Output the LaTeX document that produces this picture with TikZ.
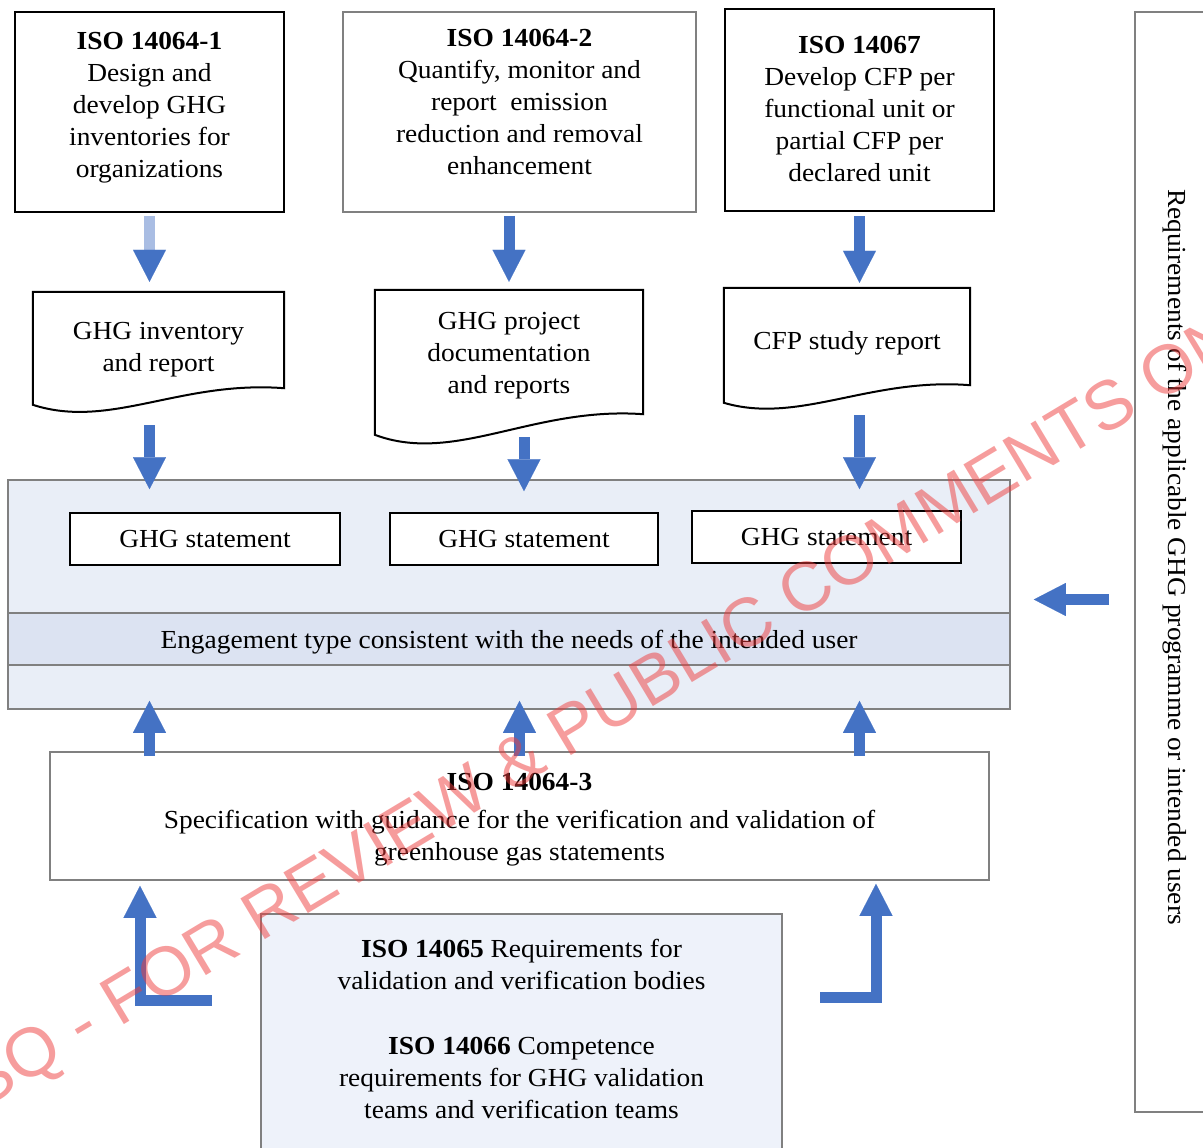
\documentclass[tikz,border=0pt]{standalone}
\usepackage{fontspec}
\setmainfont{Liberation Serif}[FakeStretch=1.055]
\newfontfamily\markfont{Liberation Sans}
\usetikzlibrary{arrows.meta}

\definecolor{arrowblue}{HTML}{4472C4}
\definecolor{paleblue}{HTML}{A9BDE3}
\definecolor{panelblue}{HTML}{E9EEF7}
\definecolor{bandblue}{HTML}{DCE3F2}
\definecolor{bodyblue}{HTML}{EEF2FA}
\definecolor{framegray}{HTML}{808080}
\definecolor{stampred}{HTML}{EE3B3B}

\tikzset{
  blackbox/.style={draw=black, line width=2pt, fill=white, inner sep=0pt},
  graybox/.style={draw=framegray, line width=1.6pt, inner sep=0pt},
  boxtext/.style={align=center, font=\fontsize{26}{32}\selectfont},
  docline/.style={draw=black, line width=2pt},
  blockarrow/.style={draw=arrowblue, line width=11pt,
    -{Triangle[length=32pt,width=33pt,line width=0.1pt]}},
}

\begin{document}
\begin{tikzpicture}[x=1pt,y=-1pt]
    \useasboundingbox (0,0) rectangle (1203,1148);

    % standards on top
    \node[blackbox, minimum width=269, minimum height=200] (isoA) at (149.5,112) {};
    \node[boxtext] at ([yshift=4]isoA.center) {\textbf{ISO 14064-1}\\Design and\\develop GHG\\inventories for\\organizations};
    \node[graybox, fill=white, minimum width=353, minimum height=200] (isoB) at (519.5,112) {};
    \node[boxtext] at ([yshift=10]isoB.center) {\textbf{ISO 14064-2}\\Quantify, monitor and\\report\ \ emission\\reduction and removal\\enhancement};
    \node[blackbox, minimum width=269, minimum height=202] (isoC) at (859.5,110) {};
    \node[boxtext] at ([yshift=1]isoC.center) {\textbf{ISO 14067}\\Develop CFP per\\functional unit or\\partial CFP per\\declared unit};

    % reports
    \node[minimum width=251, minimum height=96] (invdoc) at (158.5,340) {};
    \draw[docline] (invdoc.south east) -- (invdoc.north east) -- (invdoc.north west) -- ++(0,113)
        .. controls +(77,25) and +(-104,-8) .. cycle;
    \node[boxtext] at ([yshift=-10]invdoc.center) {GHG inventory\\and report};
    \node[minimum width=268, minimum height=124] (projdoc) at (509,352) {};
    \draw[docline] (projdoc.south east) -- (projdoc.north east) -- (projdoc.north west) -- ++(0,145)
        .. controls +(80,30) and +(-110,-8) .. cycle;
    \node[boxtext] at ([yshift=-4]projdoc.center) {GHG project\\documentation\\and reports};
    \node[minimum width=246, minimum height=97] (cfpdoc) at (847,336.5) {};
    \draw[docline] (cfpdoc.south east) -- (cfpdoc.north east) -- (cfpdoc.north west) -- ++(0,115)
        .. controls +(75,22) and +(-100,-8) .. cycle;
    \node[boxtext] at ([yshift=-7]cfpdoc.center) {CFP study report};

    % statements and engagement
    \node[graybox, fill=panelblue, minimum width=1002, minimum height=229] (ghgbox) at (509,594.5) {};
    \node[graybox, fill=bandblue, minimum width=1002, minimum height=52] (engage) at (509,639) {};
    \node[boxtext] at ([yshift=-3]engage.center) {Engagement type consistent with the needs of the intended user};
    \node[blackbox, minimum width=270, minimum height=52, boxtext] (stmtA) at (205,539) {GHG statement};
    \node[blackbox, minimum width=268, minimum height=52, boxtext] (stmtB) at (524,539) {GHG statement};
    \node[blackbox, minimum width=269, minimum height=52, boxtext] (stmtC) at (826.5,537) {GHG statement};

    % verification
    \node[graybox, fill=white, minimum width=939, minimum height=128] (verif) at (519.5,816) {};
    \node[boxtext] at ([yshift=-4]verif.center)
        {\textbf{ISO 14064-3}\\[6pt]Specification with guidance for the verification and validation of\\greenhouse gas statements};
    \node[graybox, fill=bodyblue, minimum width=521, minimum height=244] (valbox) at (521.5,1036) {};
    \node[boxtext] at ([yshift=7]valbox.center) {\textbf{ISO 14065} Requirements for\\validation and verification bodies\\[33pt]%
        \textbf{ISO 14066} Competence\\requirements for GHG validation\\teams and verification teams};

    % programme requirements
    \node[graybox, rotate=-90, minimum width=1100, minimum height=80, boxtext] (reqbox) at (1175,562)
        {\hspace*{-10pt}Requirements of the applicable GHG programme or intended users};

    % arrows
    \draw[blockarrow, draw=paleblue, -{Triangle[length=32pt,width=33pt,line width=0.1pt,color=arrowblue]},
        shorten <=3, shorten >=10] (isoA.south) -- (isoA.south |- invdoc.north);
    \draw[blockarrow, shorten <=3, shorten >=8] (projdoc.north |- isoB.south) -- (projdoc.north);
    \draw[blockarrow, shorten <=4, shorten >=5] (isoC.south) -- (isoC.south |- cfpdoc.north);

    \draw[blockarrow, shorten <=37, shorten >=-10] (isoA.south |- invdoc.south) -- (isoA.south |- ghgbox.north);
    \draw[blockarrow, shorten <=23, shorten >=-12] (stmtB.north |- projdoc.south) -- (stmtB.north |- ghgbox.north);
    \draw[blockarrow, shorten <=30, shorten >=-10] (isoC.south |- cfpdoc.south) -- (isoC.south |- ghgbox.north);

    \draw[blockarrow, shorten <=-5, shorten >=-9] (isoA.south |- verif.north) -- (isoA.south |- ghgbox.south);
    \draw[blockarrow, shorten <=-5, shorten >=-9] (verif.north) -- (verif.north |- ghgbox.south);
    \draw[blockarrow, shorten <=-5, shorten >=-9] (isoC.south |- verif.north) -- (isoC.south |- ghgbox.south);

    \draw[blockarrow, shorten <=25, shorten >=23] ([yshift=-5]reqbox.south |- ghgbox.east) -- ([yshift=-5]ghgbox.east);

    \coordinate (lfoot) at (212,1000);
    \coordinate (lbend) at (140,1000);
    \coordinate (rfoot) at (820,997);
    \coordinate (rbend) at (876,997);
    \draw[blockarrow, shorten >=5] (lfoot) -- (lbend) -- (lbend |- verif.south);
    \draw[blockarrow, shorten >=3] (rfoot) -- (rbend) -- (rbend |- verif.south);

    % review stamp
    \node[rotate=31, text=stampred, opacity=0.5, font=\markfont\fontsize{69}{69}\selectfont] (stamp) at (585,727)
        {BSQ - FOR REVIEW \& PUBLIC COMMENTS ON};
\end{tikzpicture}
\end{document}
